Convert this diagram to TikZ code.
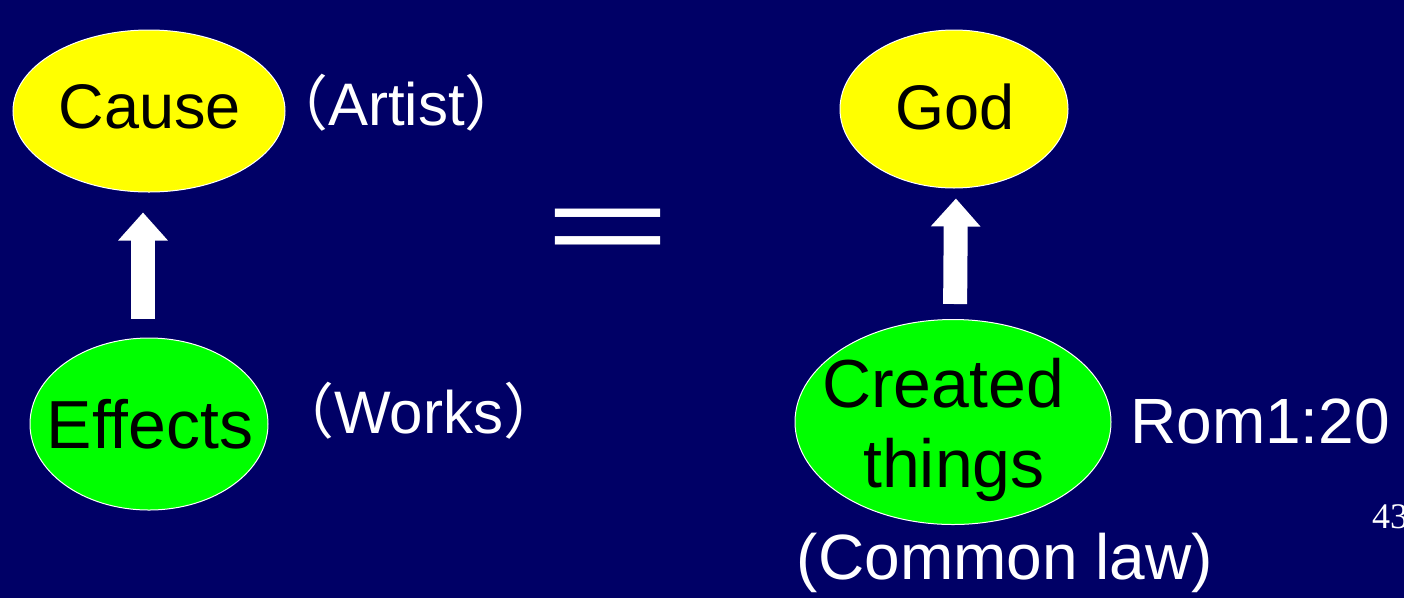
\documentclass[tikz,border=0pt]{standalone}
\usepackage{fontspec}
\setmainfont{Liberation Sans}
\newfontfamily\cjk{Noto Sans CJK SC}
\newfontfamily\numfont{Liberation Serif}
\usetikzlibrary{shapes.geometric,arrows.meta}
\definecolor{bg}{RGB}{0,0,102}
\definecolor{yel}{RGB}{255,255,0}
\definecolor{grn}{RGB}{0,255,0}
\begin{document}
\begin{tikzpicture}[x=1pt,y=-1pt,
  oval/.style={ellipse,draw=white,line width=1pt,inner sep=0pt},
  big/.style={font=\fontsize{63}{66}\selectfont,anchor=base,inner sep=0pt},
  bigger/.style={font=\fontsize{68}{70}\selectfont,anchor=base,inner sep=0pt},
  lbl/.style={text=white,font=\fontsize{64}{66}\selectfont,inner sep=0pt},
  plbl/.style={text=white,font=\fontsize{60}{64}\selectfont,inner sep=0pt,anchor=base west},
  blockarrow/.style={draw=white,line width=24pt,-{Triangle[width=48pt,length=28pt]}}]
\fill[bg] (0,0) rectangle (1404,598);
\useasboundingbox (0,0) rectangle (1404,598);
\node[oval,fill=yel,minimum width=272pt,minimum height=162pt] (cause) at (149,111) {};
\node[big] (causetext) at (150,128) {Cause};
\node[oval,fill=grn,minimum width=238pt,minimum height=172pt] (effects) at (149,424) {};
\node[bigger] (effectstext) at (150,448) {Effects};
\node[oval,fill=yel,minimum width=228pt,minimum height=158pt] (god) at (954,109) {};
\node[big] (godtext) at (955,129) {God};
\node[oval,fill=grn,minimum width=316pt,minimum height=205pt] (created) at (953,422) {};
\node[bigger] (createdtext) at (943,407) {Created};
\node[bigger] (thingstext) at (954,487) {things};
\draw[blockarrow,transform canvas={xshift=-6pt},shorten <=19pt,shorten >=20pt] (effects.north) -- (cause.south);
\draw[blockarrow,transform canvas={xshift=2pt},shorten <=15pt,shorten >=10pt] (created.north) -- (god.south);
\node[plbl] (artist) at (268,125) {{\cjk （}Artist{\cjk ）}};
\node[plbl] (works) at (274,433) {{\cjk （}Works{\cjk ）}};
\node[lbl,anchor=west] (rom) at (1130,421) {Rom1:20};
\node[lbl] (common) at (1005,563) {(Common law)};
\node[text=white,font=\cjk\fontsize{145}{145}\selectfont,inner sep=0pt] (eq) at (608,241) {\scalebox{1}[0.84]{＝}};
\node[text=white,font=\numfont\fontsize{36}{36}\selectfont,anchor=west,inner sep=0pt] (num) at (1372,517) {43};
\end{tikzpicture}
\end{document}
